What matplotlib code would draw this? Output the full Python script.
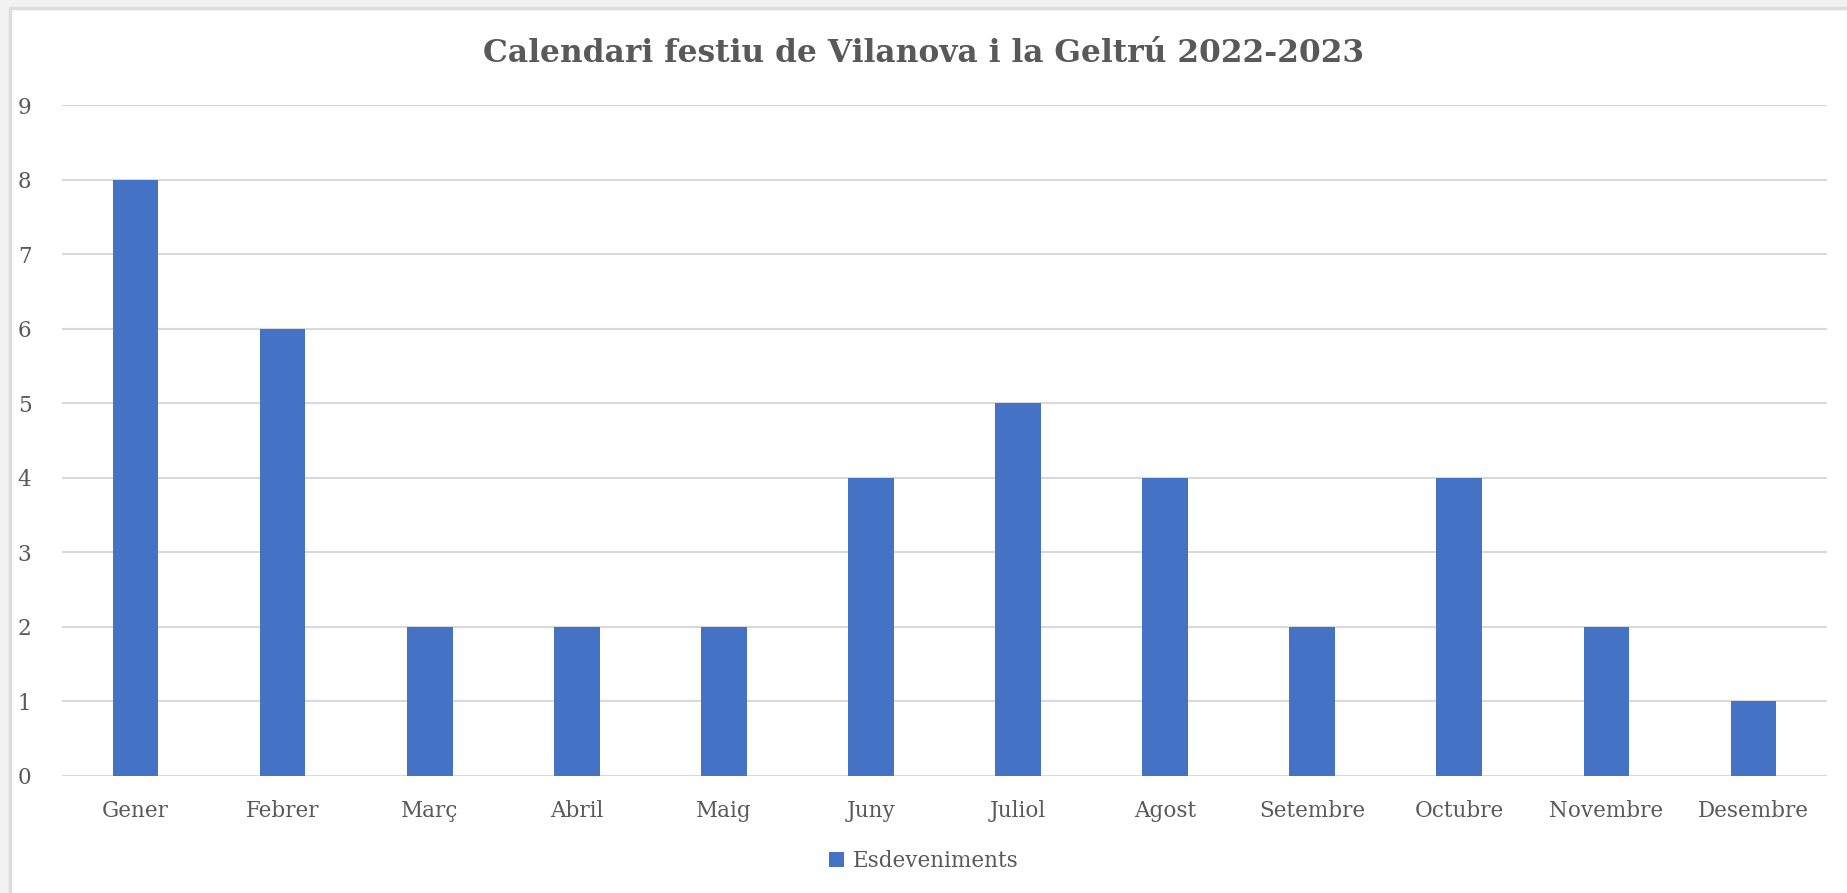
import numpy as np
import matplotlib
matplotlib.use("Agg")
from matplotlib import pyplot as plt
from matplotlib.patches import Rectangle

months = ['Gener', 'Febrer', 'Març', 'Abril', 'Maig', 'Juny', 'Juliol',
          'Agost', 'Setembre', 'Octubre', 'Novembre', 'Desembre']
events = [8, 6, 2, 2, 2, 4, 5, 4, 2, 4, 2, 1]
yticks = list(range(0, 10))

W, H = 1847, 893
fig = plt.figure(figsize=(W / 100, H / 100), dpi=100)
fig.patch.set_facecolor('white')

# gray frame bands (top and left) like the screenshot
fig.patches.append(Rectangle((0, 1 - 7 / H), 1, 7 / H, transform=fig.transFigure,
                             color='#f2f2f2', zorder=0))
fig.patches.append(Rectangle((0, 1 - 8.5 / H), 1, 1.5 / H, transform=fig.transFigure,
                             color='#dcdcdc', zorder=0))
fig.patches.append(Rectangle((0, 0), 9 / W, 1, transform=fig.transFigure,
                             color='#f2f2f2', zorder=0))
fig.patches.append(Rectangle((9 / W, 0), 1.5 / W, 1 - 7 / H, transform=fig.transFigure,
                             color='#dcdcdc', zorder=0))

left, right, top, bottom = 62, 1827, 105, 776
ax = fig.add_axes([left / W, 1 - bottom / H, (right - left) / W, (bottom - top) / H])

x = np.arange(len(months))
ax.bar(x, events, width=0.31, color='#4472C4', zorder=3, label='Esdeveniments')

ax.set_xlim(-0.5, len(months) - 0.5)
ax.set_ylim(0, 9)
ax.set_yticks(yticks)
ax.set_xticks(x)
ax.set_xticklabels(months)
ax.grid(axis='y', color='#d9d9d9', linewidth=1.5, zorder=0)
for s in ax.spines.values():
    s.set_visible(False)
ax.tick_params(axis='both', length=0, labelcolor='#595959', labelsize=15.5)
ax.tick_params(axis='x', pad=17)
ax.tick_params(axis='y', pad=22)
for lbl in ax.get_xticklabels() + ax.get_yticklabels():
    lbl.set_family('DejaVu Serif')

fig.text(0.5, 1 - 54 / H, 'Calendari festiu de Vilanova i la Geltrú 2022-2023',
         ha='center', va='center', fontsize=22.5, fontweight='bold',
         color='#595959', family='DejaVu Serif')

leg = fig.legend(loc='center', bbox_to_anchor=(0.5, 1 - 861 / H), frameon=False,
                 handlelength=0.7, handleheight=0.7, handletextpad=0.4,
                 prop={'family': 'DejaVu Serif', 'size': 15.5})
for t in leg.get_texts():
    t.set_color('#595959')

plt.savefig('out.png', dpi=100)
plt.close()
